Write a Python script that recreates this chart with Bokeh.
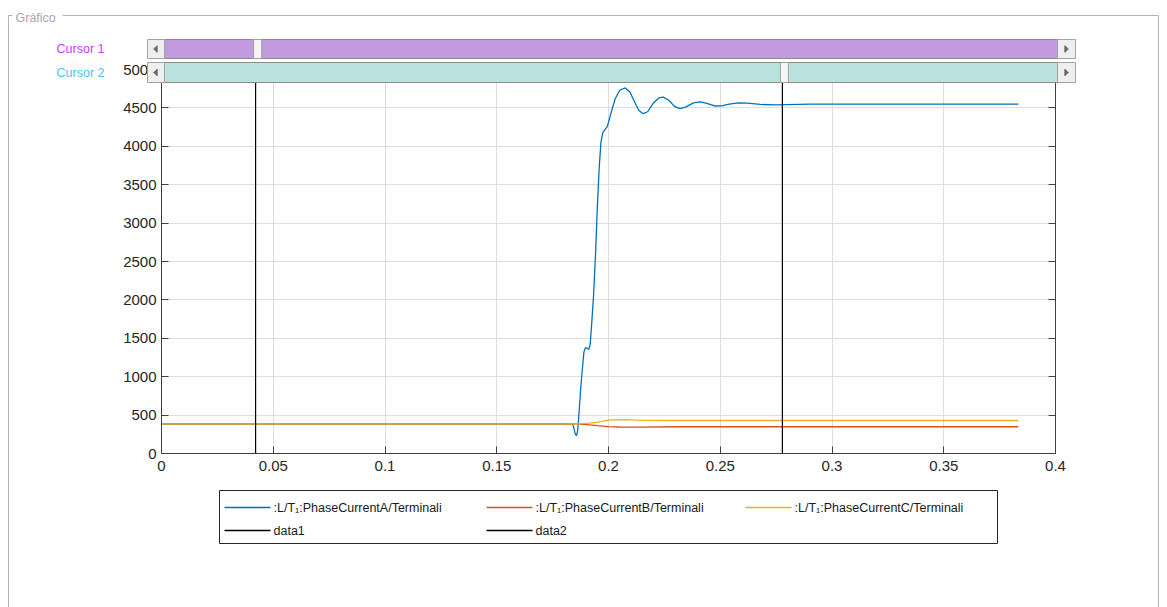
from bokeh.plotting import figure
from bokeh.models import Range1d, FixedTicker, LinearAxis, CustomJSTickFormatter
from bokeh.core.properties import value
from bokeh.embed import file_html
from bokeh.resources import INLINE

# ---- phase currents at terminal L/T1 (time in s, current in A) ----
t_a = [0.0, 0.184, 0.1845, 0.1852, 0.1857, 0.1862, 0.1868, 0.1875, 0.1883, 0.1890,
       0.1897, 0.1905, 0.1912, 0.1918, 0.1925, 0.1933, 0.1942, 0.1950, 0.1958, 0.1966,
       0.1975, 0.1985, 0.1995, 0.2010, 0.2030, 0.2050, 0.2075, 0.2095, 0.2115, 0.2135,
       0.2155, 0.2175, 0.2200, 0.2225, 0.2245, 0.2270, 0.2295, 0.2320, 0.2345, 0.2380,
       0.2410, 0.2440, 0.2475, 0.2505, 0.2540, 0.2580, 0.2620, 0.2680, 0.2750, 0.2900,
       0.3200, 0.3834]
i_a = [385, 385, 330, 250, 232, 300, 520, 820, 1100, 1320,
       1380, 1370, 1355, 1420, 1700, 2050, 2600, 3200, 3700, 4050,
       4180, 4220, 4260, 4420, 4620, 4730, 4760, 4710, 4590, 4470,
       4425, 4450, 4560, 4630, 4640, 4600, 4520, 4490, 4510, 4565,
       4578, 4560, 4525, 4526, 4550, 4565, 4562, 4545, 4540, 4548,
       4550, 4550]

t_b = [0.0, 0.186, 0.190, 0.195, 0.200, 0.205, 0.215, 0.230, 0.3834]
i_b = [385, 385, 375, 362, 350, 345, 343, 348, 348]

t_c = [0.0, 0.186, 0.190, 0.195, 0.198, 0.201, 0.208, 0.215, 0.230, 0.3834]
i_c = [385, 385, 392, 405, 425, 438, 440, 432, 430, 430]

series_labels = [":L/T\u2081:PhaseCurrentA/Terminali",
                 ":L/T\u2081:PhaseCurrentB/Terminali",
                 ":L/T\u2081:PhaseCurrentC/Terminali"]
series_colors = ["#0072bd", "#d95319", "#edb120"]

# cursor positions (s)
cursor_t = [0.0421, 0.2778]
cursor_labels = ["data1", "data2"]
cursor_colors = ["black", "black"]
cursor_names = ["Cursor 1", "Cursor 2"]
cursor_text_colors = ["#c63cff", "#4cc4f2"]
cursor_track_colors = ["#c49ade", "#bae2de"]

x_ticks = [0, 0.05, 0.1, 0.15, 0.2, 0.25, 0.3, 0.35, 0.4]
x_tick_labels = ["0", "0.05", "0.1", "0.15", "0.2", "0.25", "0.3", "0.35", "0.4"]
y_ticks = [0, 500, 1000, 1500, 2000, 2500, 3000, 3500, 4000, 4500, 5000]

W, H = 1167, 607
LEFT, RIGHT, TOP, BOTTOM = 161, 112, 69, 154
FONT = "Liberation Sans"
AX = "#404040"

p = figure(width=W, height=H,
           min_border_left=LEFT, min_border_right=RIGHT, min_border_top=TOP,
           min_border_bottom=BOTTOM,
           x_range=Range1d(0, 0.4), y_range=Range1d(0, 5000),
           output_backend="svg", toolbar_location=None,
           background_fill_color="white", border_fill_color="white")
p.outline_line_color = None

# pixel ranges for the window chrome (panel frame, sliders, key), y grows downwards
p.extra_x_ranges = {"px": Range1d(LEFT, W - RIGHT)}
p.extra_y_ranges = {"px": Range1d(H - BOTTOM, TOP)}
PX = dict(x_range_name="px", y_range_name="px", level="overlay")

fmt = CustomJSTickFormatter(args=dict(vals=x_ticks, tick_text=x_tick_labels), code="""
    const i = vals.findIndex(v => Math.abs(v - tick) < 1e-9);
    return i >= 0 ? tick_text[i] : "";
""")


def style_axis(ax, show_labels=True):
    ax.axis_line_color = AX
    ax.major_tick_line_color = AX
    ax.major_tick_in = 7
    ax.major_tick_out = 0
    ax.minor_tick_line_color = None
    ax.major_label_text_font = FONT
    ax.major_label_text_font_size = "15px"
    ax.major_label_text_color = "#262626" if show_labels else None


p.xaxis.ticker = FixedTicker(ticks=x_ticks)
p.xaxis.formatter = fmt
p.yaxis.ticker = FixedTicker(ticks=y_ticks)
style_axis(p.xaxis[0])
style_axis(p.yaxis[0])
p.xaxis.major_label_standoff = 7
p.yaxis.major_label_standoff = 5

right_ax = LinearAxis(ticker=FixedTicker(ticks=y_ticks))
style_axis(right_ax, False)
p.add_layout(right_ax, "right")
top_ax = LinearAxis(ticker=FixedTicker(ticks=x_ticks))
style_axis(top_ax, False)
p.add_layout(top_ax, "above")

p.xgrid.ticker = FixedTicker(ticks=x_ticks)
p.ygrid.ticker = FixedTicker(ticks=y_ticks)
for g in (p.xgrid[0], p.ygrid[0]):
    g.grid_line_color = "#dedede"

# phase current traces
for tt, ii, col in zip([t_a, t_b, t_c], [i_a, i_b, i_c], series_colors):
    p.line(tt, ii, line_color=col, line_width=1.3)

# cursor lines across the whole y range
for c, col in zip(cursor_t, cursor_colors):
    p.line([c, c], [p.y_range.start, p.y_range.end], line_color=col, line_width=1.2)

# ---- key below the axes: 3 columns, filled row by row ----
key_labels = series_labels + cursor_labels
key_colors = series_colors + cursor_colors
key_box = dict(left=219, right=997, top=490, bottom=543)
col_x = [224, 486, 745]
row_y = [507, 530]
p.quad(**key_box, fill_color="white", line_color="#262626", line_width=1, **PX)
for k, (lbl, col) in enumerate(zip(key_labels, key_colors)):
    x0 = col_x[k % 3]
    y0 = row_y[k // 3]
    p.segment(x0=[x0], y0=[y0], x1=[x0 + 46], y1=[y0], line_color=col, line_width=1.3, **PX)
    p.text(x=[x0 + 49], y=[y0], text=[lbl], text_font=value(FONT), text_font_size="12.5px",
           text_color="#1a1a1a", text_baseline="middle", **PX)

# group panel frame with its title
p.quad(left=8, right=W - 9, top=15, bottom=H + 40, fill_color=None,
       line_color="#b4b4b4", line_width=1, **PX)
p.quad(left=12, right=62, top=9, bottom=22, fill_color="white", line_color=None, **PX)
p.text(x=[15], y=[17.5], text=["Gráfico"], text_font=value(FONT), text_font_size="12.5px",
       text_color="#a8a8a8", text_baseline="middle", **PX)


def arrow(cx, mid, direction):
    # small pixel-stepped arrow head built from 1px columns
    lefts, rights, tops, bots = [], [], [], []
    for i in range(4):
        x = cx - 2 + i if direction < 0 else cx + 1 - i
        lefts.append(x)
        rights.append(x + 1)
        tops.append(mid - 0.5 - i)
        bots.append(mid + 0.5 + i)
    p.quad(left=lefts, right=rights, top=tops, bottom=bots, fill_color="#3a3a3a",
           line_color=None, **PX)


# cursor sliders drawn over the top of the axes
bands = [(39, 58), (62, 82)]
for (top, bot), c, name, tcol, trk in zip(bands, cursor_t, cursor_names,
                                          cursor_text_colors, cursor_track_colors):
    mid = (top + bot) / 2
    p.quad(left=164, right=1057, top=top, bottom=bot, fill_color=trk,
           line_color="#8c8c8c", line_width=1, **PX)
    p.quad(left=[147, 1057], right=[164, 1075], top=top, bottom=bot, fill_color="#efefef",
           line_color="#a3a3a3", line_width=1, **PX)
    arrow(155, mid, -1)
    arrow(1066, mid, 1)
    # slider thumb at the cursor value
    p.quad(left=c - 0.0009, right=c + 0.0027, top=top, bottom=bot, fill_color="#f5f5f5",
           line_color="#a0a0a0", line_width=1, y_range_name="px", level="overlay")
    p.text(x=[104], y=[mid], text=[name], text_font=value(FONT), text_font_size="12.5px",
           text_color=tcol, text_align="right", text_baseline="middle", **PX)

open("out.html", "w").write(file_html(p, INLINE))
